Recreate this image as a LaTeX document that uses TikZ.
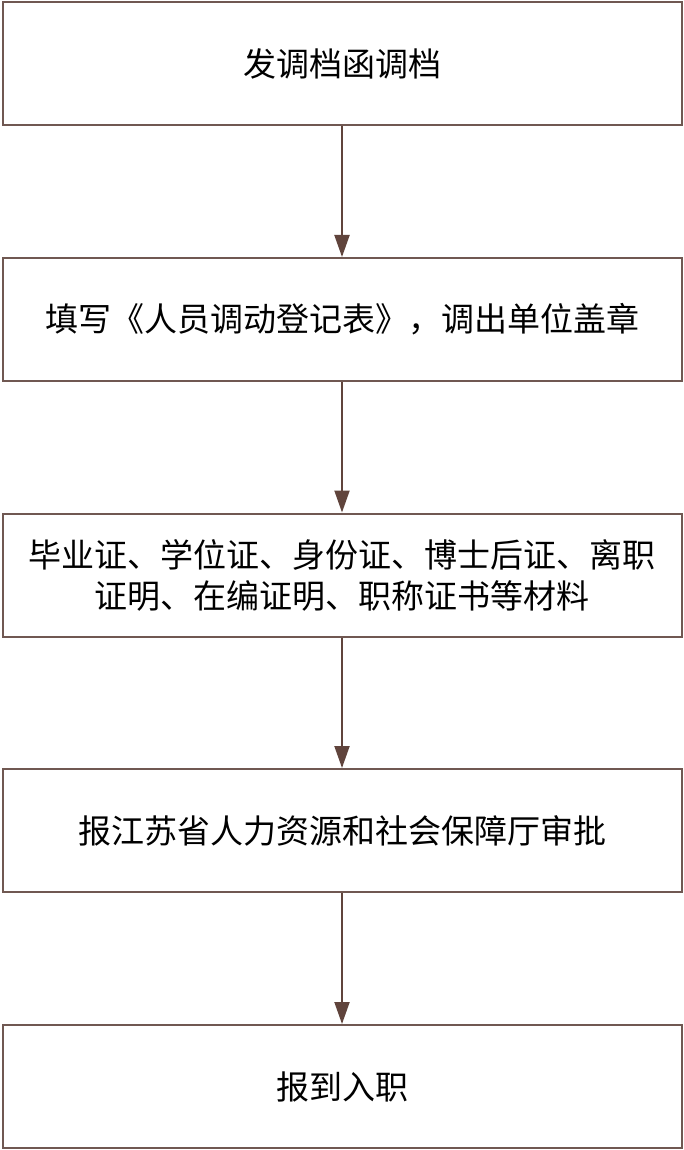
\documentclass[tikz,border=0pt]{standalone}
\usepackage{fontspec}
\setmainfont{Noto Sans CJK SC}
\usetikzlibrary{arrows.meta}
\definecolor{boxline}{RGB}{112,88,82}
\definecolor{arrowc}{RGB}{96,68,60}
\begin{document}
\begin{tikzpicture}[x=1pt,y=1pt,
  stepbox/.style={draw=boxline,line width=2pt,minimum width=679pt,minimum height=123pt,
    inner sep=0pt,align=center,font=\fontsize{33}{41}\selectfont,text=black},
  flow/.style={draw=arrowc,line width=2pt,-{Triangle[length=22pt,width=15pt]}}]
\useasboundingbox (0,0) rectangle (684,-1150);
\fill[white] (0,0) rectangle (684,-1150);
\node[stepbox] (b1) at (342,-64) {发调档函调档};
\node[stepbox] (b2) at (342,-319.5) {填写《人员调动登记表》，调出单位盖章};
\node[stepbox] (b3) at (342,-575) {毕业证、学位证、身份证、博士后证、离职\\证明、在编证明、职称证书等材料};
\node[stepbox] (b4) at (342,-830.5) {报江苏省人力资源和社会保障厅审批};
\node[stepbox] (b5) at (342,-1086.5) {报到入职};
\draw[flow] (b1.south) -- (b2.north);
\draw[flow] (b2.south) -- (b3.north);
\draw[flow] (b3.south) -- (b4.north);
\draw[flow] (b4.south) -- (b5.north);
\end{tikzpicture}
\end{document}
